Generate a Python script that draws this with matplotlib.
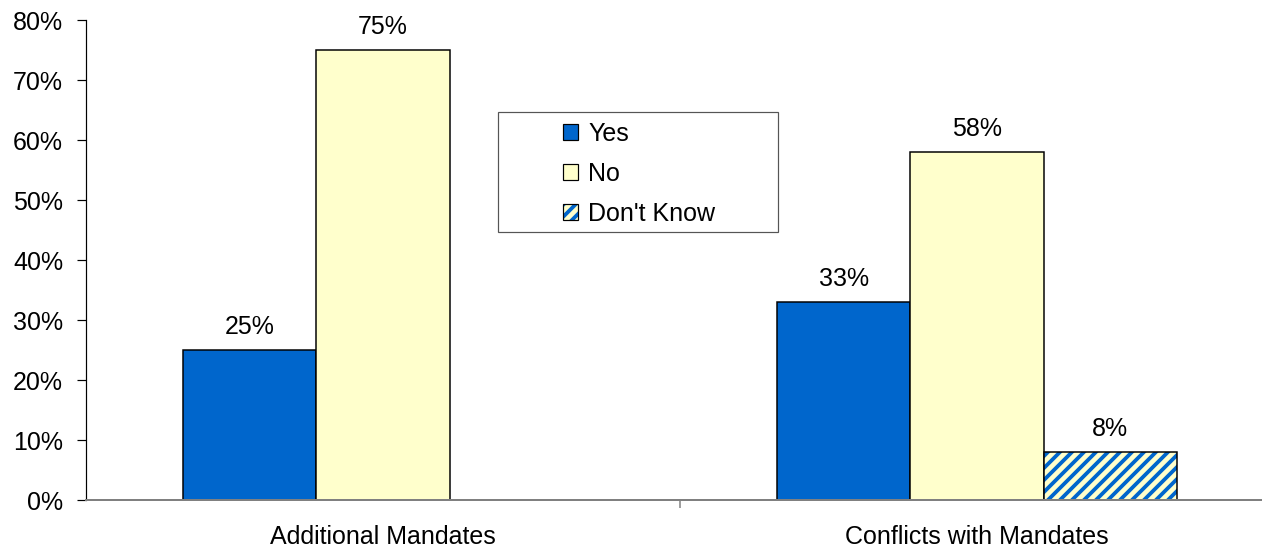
import matplotlib
matplotlib.use("Agg")
import matplotlib.pyplot as plt
import numpy as np
from matplotlib.colors import to_rgba
from matplotlib.patches import Rectangle

categories = ["Additional Mandates", "Conflicts with Mandates"]
series = ["Yes", "No", "Don't Know"]
yes_vals = [25, 33]
no_vals = [75, 58]
dk_vals = [None, 8]
y_ticks = [0, 10, 20, 30, 40, 50, 60, 70, 80]

# dpi 72 so 1pt == 1px
DPI = 72
plt.rcParams['font.family'] = ['Liberation Sans', 'DejaVu Sans']
plt.rcParams['hatch.linewidth'] = 3.8

fig = plt.figure(figsize=(1262 / DPI, 552 / DPI), dpi=DPI)
ax = fig.add_axes([86 / 1262, 52 / 552, 1188 / 1262, 480 / 552])

x = np.arange(len(categories))
w = 0.224
fs = 25

def draw(vals, offset, **kw):
    xs = [xi + offset for xi, v in zip(x, vals) if v is not None]
    vs = [v for v in vals if v is not None]
    bars = ax.bar(xs, vs, w, edgecolor='black', linewidth=1.5, **kw)
    for b, v in zip(bars, vs):
        ax.text(b.get_x() + b.get_width() / 2, v + 1.9, f"{v}%",
                ha='center', va='bottom', fontsize=fs)
    return bars

b1 = draw(yes_vals, -w, color='#0066CC', label=series[0])
b2 = draw(no_vals, 0, color='#FFFFCC', label=series[1])
b3 = draw(dk_vals, w, color='#FFFFCC', hatch='//', label=series[2])
for p in b3:
    p._hatch_color = to_rgba('#0066CC')

ax.set_xlim(-0.5, 1.5)
ax.set_ylim(0, 80)
ax.set_yticks(y_ticks)
ax.set_yticklabels([f"{t}%" for t in y_ticks], fontsize=fs)
ax.set_xticks([0.5])
ax.set_xticklabels([""])
ax.tick_params(axis='x', length=8, direction='out', color='#808080', width=1.5)
ax.tick_params(axis='y', length=9, direction='out', width=1.2, pad=14)
for xi, c in zip(x, categories):
    ax.text(xi, -6.2, c, ha='center', va='center', fontsize=fs)

ax.spines['top'].set_visible(False)
ax.spines['right'].set_visible(False)
ax.spines['left'].set_color('black')
ax.spines['left'].set_linewidth(1.2)
ax.spines['bottom'].set_color('#808080')
ax.spines['bottom'].set_linewidth(2)

# legend box and entries
fig.patches.append(Rectangle((498 / 1262, 1 - 232 / 552), 280 / 1262, 120 / 552,
                             transform=fig.transFigure, facecolor='white',
                             edgecolor='#555555', linewidth=1.2, zorder=5))
leg = fig.legend(handles=[b1, b2, b3], loc='upper left',
                 bbox_to_anchor=(543 / 1262, 1 - 102 / 552),
                 frameon=False, fontsize=fs, handlelength=0.6, handleheight=0.6,
                 handletextpad=0.4, labelspacing=0.64, borderpad=0.3)
leg.set_zorder(6)
for h in leg.legend_handles:
    h.set_linewidth(1.2)
leg.legend_handles[2]._hatch_color = to_rgba('#0066CC')

fig.savefig("out.png", dpi=DPI)
